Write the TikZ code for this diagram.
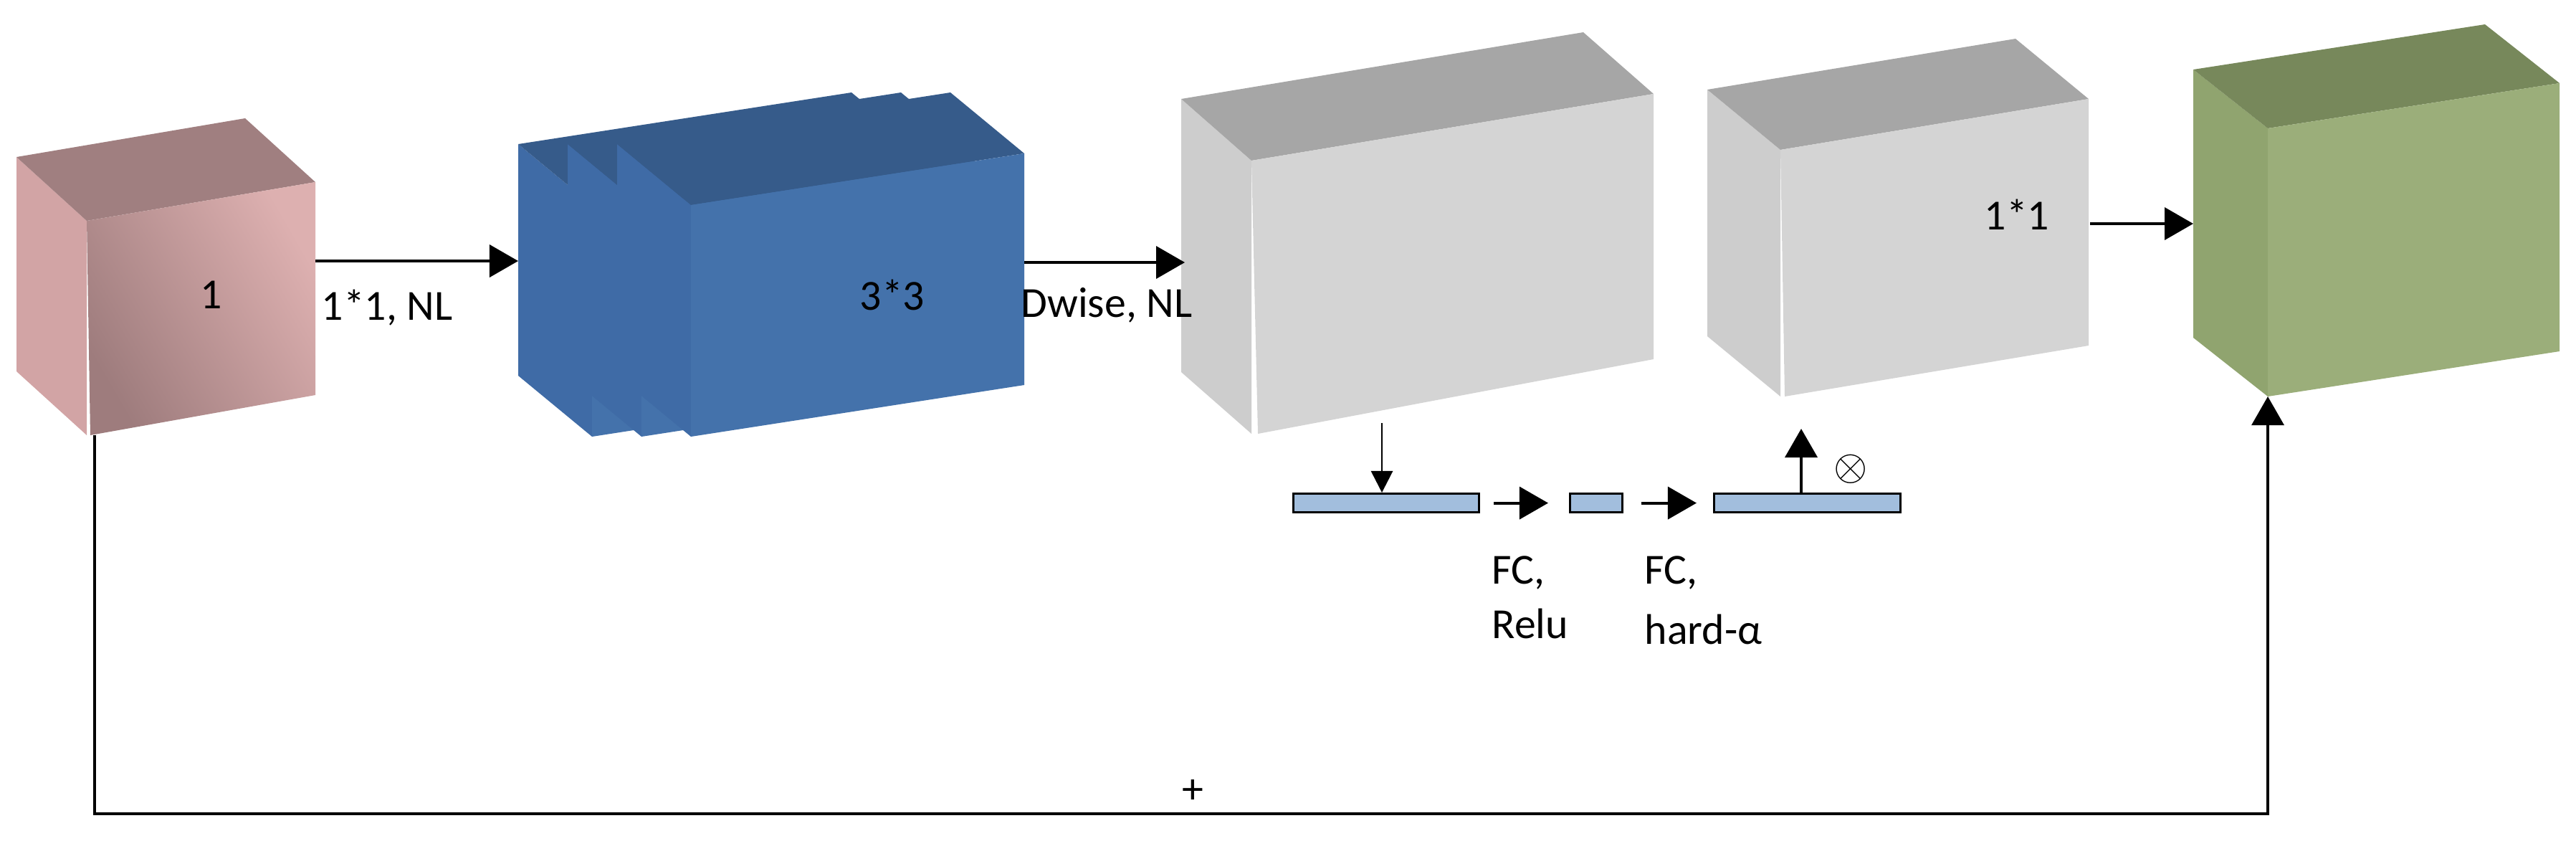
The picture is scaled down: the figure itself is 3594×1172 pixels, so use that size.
\documentclass[tikz,border=0pt]{standalone}
\usepackage{fontspec}
\setmainfont{Carlito}
\usetikzlibrary{arrows.meta}
\definecolor{pinkT}{HTML}{A07F80}
\definecolor{pinkS}{HTML}{D2A4A5}
\definecolor{pinkA}{HTML}{9E7C7D}
\definecolor{pinkB}{HTML}{DDB0B0}
\definecolor{bluF}{HTML}{4472AB}
\definecolor{bluT}{HTML}{365B8A}
\definecolor{bluS}{HTML}{3F6BA6}
\definecolor{gryF}{HTML}{D4D4D4}
\definecolor{gryT}{HTML}{A6A6A6}
\definecolor{gryS}{HTML}{CDCDCD}
\definecolor{grnF}{HTML}{9BAE7A}
\definecolor{grnT}{HTML}{77885B}
\definecolor{grnS}{HTML}{90A46F}
\definecolor{barC}{HTML}{A2BEDD}
\newcommand\mycube[9]{%
  \fill[#9] (#1,#2) -- ++(#6,#7) -- ++(0,#5) -- ++(-#6,-#7) -- cycle;
  \fill[#8] (#1,#2) -- ++(#3,#4) -- ++(#6,#7) -- ++(-#3,-#4) -- cycle;
}
\begin{document}
\begin{tikzpicture}[x=0.01cm,y=-0.01cm,
  lbl/.style={font=\fontsize{17}{20}\selectfont,inner sep=0pt},
  arr/.style={line width=1.1pt,-{Triangle[length=0.4cm,width=0.45cm]}},
  thin arr/.style={line width=0.8pt,-{Triangle[length=0.3cm,width=0.3cm]}},
  bar/.style={draw,fill=barC,line width=0.9pt,minimum height=0.26cm,inner sep=0pt,anchor=north west}]
\useasboundingbox (0,0) rectangle (3594,1172);
% pink
\mycube{121}{308}{319}{-54}{299}{-98}{-89}{pinkT}{pinkS}
\shade[left color=pinkA,right color=pinkB,shading angle=120] (121,308) -- ++(319,-54) -- ++(0,297) -- (126,607) -- cycle;
% blue layers
\foreach \s in {138,69}{
  \mycube{964-\s}{286}{465}{-72}{323}{-103}{-85}{bluT}{bluS}
  \fill[bluF] (964-\s,286) -- ++(465,-72) -- ++(0,323) -- ++(-465,72) -- cycle;
}
\mycube{964}{286}{465}{-72}{323}{-103}{-85}{bluT}{bluS}
\fill[bluF] (964,286) -- ++(465,-72) -- ++(0,323) -- ++(-465,72) -- cycle;
% gray 1
\mycube{1746}{224}{561}{-93}{381}{-98}{-86}{gryT}{gryS}
\fill[gryF] (1746,224) -- ++(561,-93) -- ++(0,370) -- (1755,605) -- cycle;
% gray 2
\mycube{2484}{209}{430}{-71}{344}{-102}{-84}{gryT}{gryS}
\fill[gryF] (2484,209) -- ++(430,-71) -- ++(0,344) -- (2490,553) -- cycle;
% green
\mycube{3164}{179}{407}{-63}{374}{-104}{-82}{grnT}{grnS}
\fill[grnF] (3164,179) -- ++(407,-63) -- ++(0,374) -- (3164,553) -- cycle;
% labels
\node[lbl] (l1) at (295,411) {1};
\node[lbl] (l11) at (540,429) {1*1, NL};
\node[lbl] (l33) at (1245,411) {3*3};
\node[lbl] (ldw) at (1544,426) {Dwise, NL};
\node[lbl] (l11b) at (2814,299) {1*1};
% main arrows
\coordinate (a1) at (440,364); \coordinate (a2) at (723,364);
\coordinate (b1) at (1429,366); \coordinate (b2) at (1653,366);
\coordinate (c1) at (2916,312); \coordinate (c2) at (3060,312);
\draw[arr] (a1) -- (a2);
\draw[arr] (b1) -- (b2);
\draw[arr] (c1) -- (c2);
% SE bars
\node[bar,minimum width=2.59cm] (bar1) at (1803,687) {};
\node[bar,minimum width=0.73cm] (bar2) at (2189,687) {};
\node[bar,minimum width=2.6cm] (bar3) at (2390,687) {};
\draw[arr] (bar1.east) ++(19,0) coordinate (e1) (e1) -- ([xshift=-0.29cm]bar2.west);
\draw[arr] (bar2.east) ++(25,0) coordinate (e2) (e2) -- ([xshift=-0.23cm]bar3.west);
\coordinate (d0) at (1928,590);
\draw[thin arr] (d0) -- (1928,687);
\coordinate (u0) at (2513,687);
\draw[arr] (u0) -- (2513,598);
\node[lbl] (ot) at (2582,654) {$\otimes$};
\node[lbl,anchor=west] (fc1) at (2081,799) {FC,};
\node[lbl,anchor=west] (fc1b) at (2081,870) {Relu};
\node[lbl,anchor=west] (fc2) at (2294,799) {FC,};
\node[lbl,anchor=west] (fc2b) at (2294,878) {hard-α};
% skip connection
\coordinate (s0) at (132,607); \coordinate (s1) at (3164,553);
\draw[arr,line width=0.9pt] (s0) -- (132,1135) -- (3164,1135) -- (s1);
\node[lbl] (plus) at (1664,1104) {+};
\end{tikzpicture}
\end{document}
